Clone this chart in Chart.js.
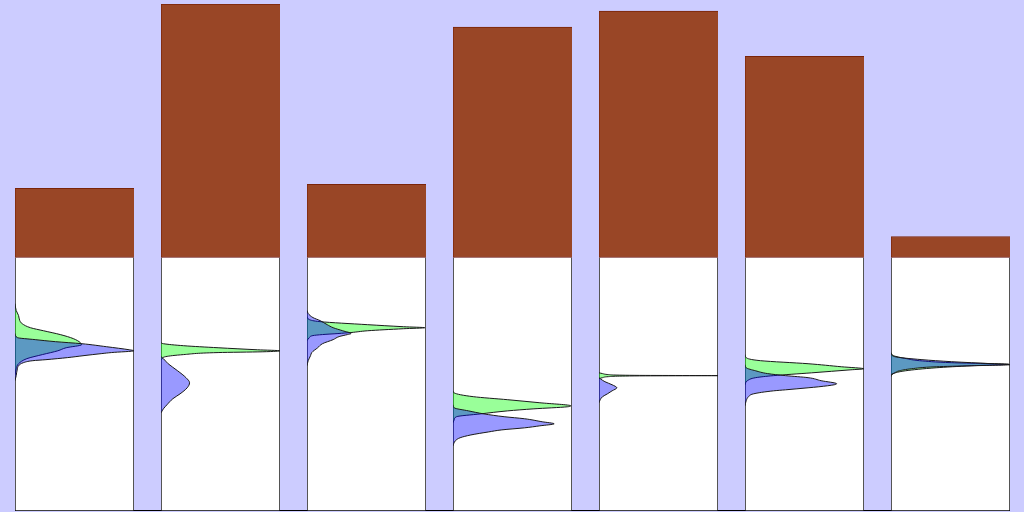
<!DOCTYPE html>
<html><head><meta charset="utf-8">
<script src="https://cdn.jsdelivr.net/npm/chart.js@4.4.1/dist/chart.umd.min.js"></script>
<style>
html,body{margin:0;padding:0;background:#ccccff;}
#wrap{position:relative;width:1024px;height:512px;overflow:hidden;background:#ccccff;}
.panel{position:absolute;top:0;width:119px;height:512px;}
#base{position:absolute;left:15px;top:510px;width:993px;height:1px;background:#000;}
</style></head><body><div id="wrap"><div id="base"></div></div>
<script>
const categories = ['1','2','3','4','5','6','7'];
const barValues = [27.3, 100, 28.9, 90.9, 97.2, 79.4, 8.3];

const greenDepth = [
  [18.2,20.9,22.9,24.9,26.1,27.7,28.9,30.4,32.0,33.6,34.4,35.6,36.8,38.3,39.9,41.9,43.9,46.2],
  [33.6,34.0,34.8,35.6,36.4,36.8,37.2,37.5,38.3,39.1,39.9,40.3],
  [23.3,24.5,25.3,26.5,27.3,27.7,28.1,28.9,29.6,30.0,30.4,30.8,31.6,32.8],
  [52.6,53.4,54.9,56.1,57.3,58.5,58.9,59.7,60.5,61.7,62.8,64.0,65.2],
  [45.5,45.8,46.2,46.5,46.6,46.7,47.0,47.4,47.8],
  [38.3,39.5,40.7,41.9,43.1,43.9,44.3,45.5,46.6,47.4,48.6,50.2],
  [37.5,38.7,39.9,40.7,41.5,42.1,42.7,43.5,44.7,45.8,47.0]
];
const greenDensity = [
  [0,.01,.03,.04,.06,.13,.24,.38,.49,.55,.56,.43,.36,.23,.10,.03,.01,0],
  [0,.02,.19,.48,.81,1.0,.85,.48,.19,.04,.01,0],
  [0,.02,.11,.51,.81,.99,.81,.51,.37,.26,.13,.05,.02,0],
  [0,.01,.17,.46,.73,.99,.96,.68,.46,.23,.03,.01,0],
  [0,.03,.08,.34,1.0,.34,.08,.03,0],
  [0,.01,.13,.53,.81,1.0,.89,.56,.24,.09,.02,0],
  [0,.02,.13,.24,.51,.99,.68,.38,.12,.02,0]
];
const blueDepth = [
  [30.0,31.6,32.4,33.2,34.0,35.2,36.4,36.8,37.5,37.9,38.7,39.5,40.3,40.7,41.5,42.7,43.9,46.6,48.6],
  [39.1,39.9,41.9,44.7,47.4,49.4,51.4,53.8,55.7,58.1,59.7,61.3],
  [20.9,22.1,23.7,24.9,26.5,27.7,28.9,30.0,30.4,31.2,32.4,34.0,35.6,37.5,38.7,40.7,42.7],
  [58.1,59.3,60.5,61.7,62.8,63.6,64.8,65.6,66.4,67.2,68.0,68.8,70.0,71.1,72.3,74.3],
  [47.4,47.8,49.0,50.2,51.4,52.6,53.8,54.9,56.1,57.3],
  [42.3,43.5,44.7,45.8,46.6,47.4,48.6,49.8,50.2,51.0,51.4,52.2,52.6,53.8,54.9,56.5,58.5],
  [37.9,39.1,40.3,41.1,41.9,42.3,42.7,43.1,43.9,44.7,45.5,46.2]
];
const blueDensity = [
  [0,.02,.17,.34,.56,.77,.96,1.0,.81,.73,.58,.44,.26,.15,.07,.03,.02,.01,0],
  [0,.02,.06,.14,.21,.24,.22,.16,.10,.05,.02,0],
  [0,.01,.05,.11,.17,.22,.30,.37,.34,.27,.22,.13,.09,.04,.03,.01,0],
  [0,.01,.13,.26,.43,.60,.75,.85,.73,.60,.41,.30,.15,.06,.02,0],
  [0,.01,.05,.11,.15,.11,.07,.03,.01,0],
  [0,.01,.09,.19,.34,.53,.64,.77,.75,.62,.53,.34,.24,.07,.03,.01,0],
  [0,.03,.26,.51,.85,1.0,.68,.38,.17,.07,.03,0]
];

const wrap = document.getElementById('wrap');
function pts(depths, dens){ return depths.map((d,k)=>({x:dens[k], y:d})); }

categories.forEach((cat,i)=>{
  const div = document.createElement('div');
  div.className = 'panel';
  div.style.left = (15 + i*146) + 'px';
  const cv = document.createElement('canvas');
  cv.width = 119; cv.height = 512;
  div.appendChild(cv);
  wrap.appendChild(div);
  const lineCommon = {type:'line', indexAxis:'y', xAxisID:'xd', yAxisID:'yd', borderColor:'#1a1a1a', borderWidth:1,
    pointRadius:0, fill:'origin', cubicInterpolationMode:'monotone'};
  new Chart(cv, {
    type:'bar',
    data:{labels:[cat], datasets:[
      Object.assign({}, lineCommon, {data:pts(blueDepth[i], blueDensity[i]), backgroundColor:'rgba(0,0,255,0.4)', order:1}),
      Object.assign({}, lineCommon, {data:pts(greenDepth[i], greenDensity[i]), backgroundColor:'rgba(0,255,0,0.4)', order:2}),
      {type:'bar', xAxisID:'x', yAxisID:'y', data:[[0, barValues[i]]], backgroundColor:'#994626', borderColor:'#7a240a',
        borderWidth:{top:1,bottom:1,left:1,right:0}, borderSkipped:false, grouped:false, barPercentage:1, categoryPercentage:1, order:3},
      {type:'bar', xAxisID:'x', yAxisID:'y', data:[[-100, 0]], backgroundColor:'#ffffff', borderColor:'#000000',
        borderWidth:{top:0,bottom:1,left:1,right:1}, borderSkipped:false, grouped:false, barPercentage:1, categoryPercentage:1, order:4}
    ]},
    options:{
      responsive:false, animation:false, devicePixelRatio:1,
      layout:{padding:{top:4,bottom:1,left:0,right:0}},
      plugins:{legend:{display:false}, tooltip:{enabled:false}},
      scales:{
        x:{type:'category', axis:'x', display:false},
        y:{type:'linear', axis:'y', min:-100, max:100, display:false},
        xd:{type:'linear', axis:'x', min:0, max:1, offset:false, display:false},
        yd:{type:'linear', axis:'y', min:-100, max:100, reverse:true, offset:false, display:false}
      }
    }
  });
});
</script>
</body></html>
